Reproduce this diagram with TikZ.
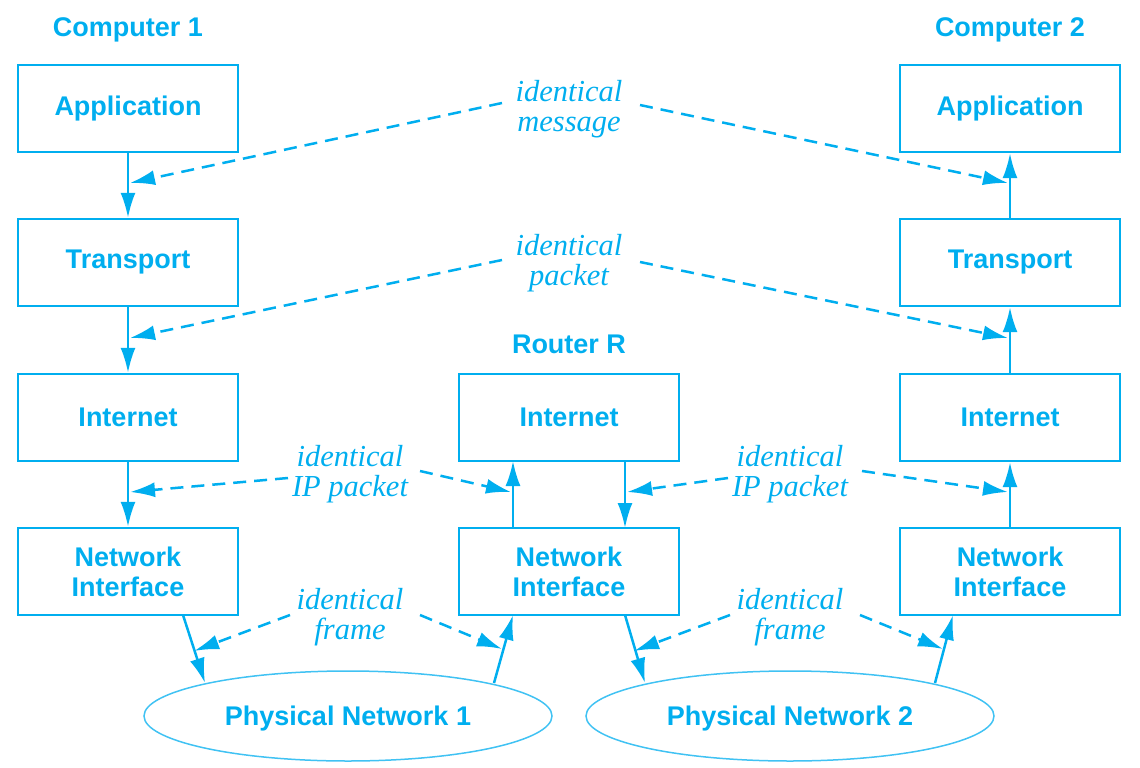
\documentclass[tikz,border=0pt]{standalone}
\usepackage{fontspec}
\setmainfont{Liberation Sans}
\newfontfamily\lblfont{Liberation Serif}
\usetikzlibrary{arrows.meta,shapes.geometric,calc}
\definecolor{cy}{HTML}{00AEEF}
\begin{document}
\begin{tikzpicture}[x=1pt,y=-1pt,
  layer/.style={draw=cy, line width=2.4pt, minimum width=220pt, minimum height=87pt, inner sep=0pt,
    font=\fontsize{27}{30}\selectfont\bfseries, text=cy, align=center},
  ttl/.style={font=\fontsize{27}{30}\selectfont\bfseries, text=cy, text height=19.3pt, text depth=0pt, inner sep=0pt},
  lbl/.style={font=\lblfont\itshape\fontsize{30.5}{30}\selectfont, text=cy, align=center, inner sep=0pt,
    text height=51pt, text depth=7pt},
  net/.style={ellipse, draw=cy!75, line width=1.5pt, minimum width=408pt, minimum height=90pt, inner sep=0pt,
    font=\fontsize{27}{30}\selectfont\bfseries, text=cy, text height=19.3pt, text depth=0pt},
  arr/.style={-{Latex[length=25pt,width=15pt]}, line width=2.5pt, draw=cy},
  dsh/.style={arr, dash pattern=on 13pt off 8pt}]
\useasboundingbox (0,0) rectangle (1140,768);
% titles
\node[ttl] (c1) at (128,27) {Computer 1};
\node[ttl] (c2) at (1010,27) {Computer 2};
\node[ttl] (rr) at (569,344) {Router R};
% boxes
\node[layer] (a1) at (128,108.5) {Application};
\node[layer] (t1) at (128,262.5) {Transport};
\node[layer] (i1) at (128,417.5) {Internet};
\node[layer] (n1) at (128,571.5) {Network\\Interface};
\node[layer] (ir) at (569,417.5) {Internet};
\node[layer] (nr) at (569,571.5) {Network\\Interface};
\node[layer] (a2) at (1010,108.5) {Application};
\node[layer] (t2) at (1010,262.5) {Transport};
\node[layer] (i2) at (1010,417.5) {Internet};
\node[layer] (n2) at (1010,571.5) {Network\\Interface};
% networks
\node[net] (p1) at (348,716) {Physical Network 1};
\node[net] (p2) at (790,716) {Physical Network 2};
% labels
\node[lbl] (lm) at (569,109) {identical\\message};
\node[lbl] (lp) at (569,263) {identical\\packet};
\node[lbl] (li1) at (350,474) {identical\\IP packet};
\node[lbl] (li2) at (790,474) {identical\\IP packet};
\node[lbl] (lf1) at (350,617) {identical\\frame};
\node[lbl] (lf2) at (790,617) {identical\\frame};
% vertical arrows
\draw[arr] (a1.south) -- (t1.north);
\draw[arr] (t1.south) -- (i1.north);
\draw[arr] (i1.south) -- (n1.north);
\draw[arr] (t2.north) -- (a2.south);
\draw[arr] (i2.north) -- (t2.south);
\draw[arr] (n2.north) -- (i2.south);
\coordinate (ru1) at (513,528);
\coordinate (ru2) at (513,461);
\coordinate (rd1) at (625,461);
\coordinate (rd2) at (625,528);
\draw[arr] (ru1) -- (ru2);
\draw[arr] (rd1) -- (rd2);
% links to networks
\coordinate (n1b) at (183,615);
\coordinate (p1a) at (205,683);
\coordinate (p1b) at (494,683);
\coordinate (nrb) at (513,615);
\coordinate (nrc) at (625,615);
\coordinate (p2a) at (645,683);
\coordinate (p2b) at (935,683);
\coordinate (n2b) at (953,615);
\draw[arr] (n1b) -- (p1a);
\draw[arr] (p1b) -- (nrb);
\draw[arr] (nrc) -- (p2a);
\draw[arr] (p2b) -- (n2b);
% dashed arrows
\coordinate (m1) at (130,183);
\coordinate (m2) at (1008,183);
\coordinate (k1) at (130,338);
\coordinate (k2) at (1008,338);
\coordinate (q1) at (130,492);
\coordinate (q2) at (511,492);
\coordinate (q3) at (627,492);
\coordinate (q4) at (1008,492);
\coordinate (f1) at (194,651);
\coordinate (f2) at (502,649);
\coordinate (f3) at (634,651);
\coordinate (f4) at (943,649);
\draw[dsh] (502,103) -- (m1);
\draw[dsh] (640,105) -- (m2);
\draw[dsh] (502,260) -- (k1);
\draw[dsh] (640,262) -- (k2);
\draw[dsh] (288,478) -- (q1);
\draw[dsh] (420,471) -- (q2);
\draw[dsh] (728,478) -- (q3);
\draw[dsh] (862,471) -- (q4);
\draw[dsh] (290,615) -- (f1);
\draw[dsh] (420,615) -- (f2);
\draw[dsh] (730,615) -- (f3);
\draw[dsh] (860,615) -- (f4);
\end{tikzpicture}
\end{document}
